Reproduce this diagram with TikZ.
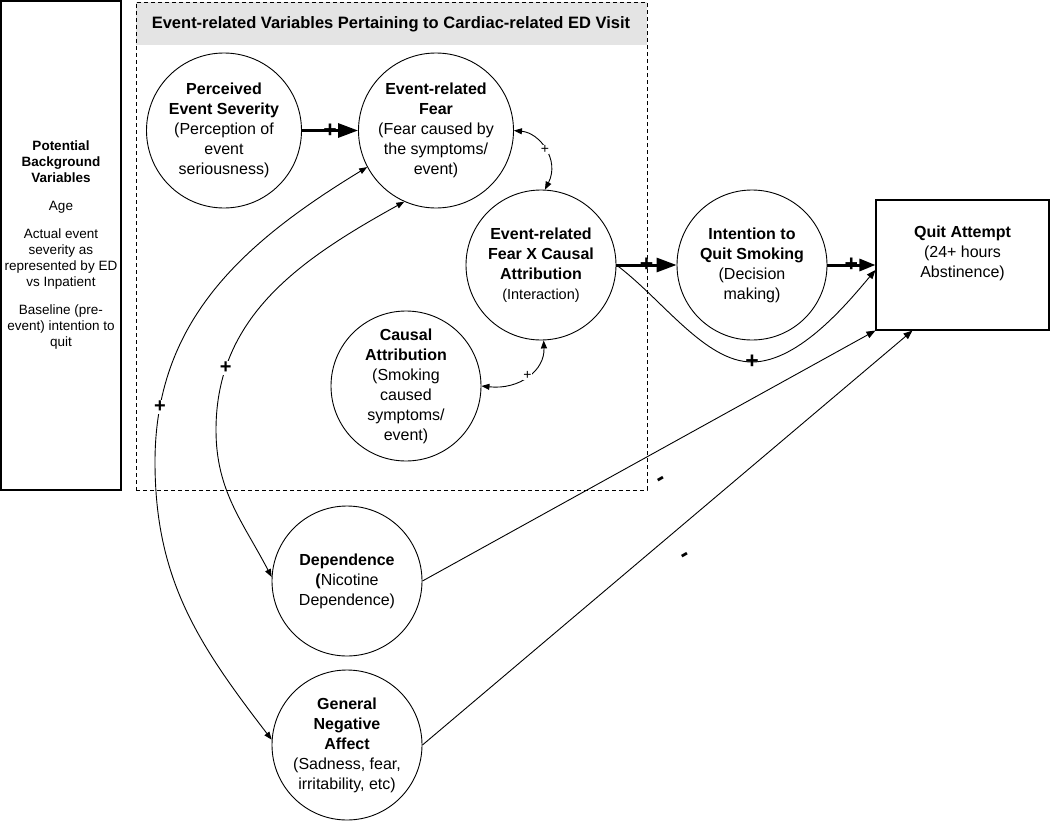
\documentclass[tikz,border=0pt]{standalone}
\usepackage{fontspec}
\setmainfont{Liberation Sans}
\usetikzlibrary{arrows.meta}
\definecolor{headgray}{RGB}{228,228,228}
\begin{document}
\begin{tikzpicture}[x=1pt,y=-1pt,
  circ/.style={draw, circle, minimum size=150pt, inner sep=0pt, align=center, line width=0.9pt, font=\fontsize{16}{20}\selectfont},
  sqbox/.style={draw, rectangle, inner sep=0pt, line width=1.1pt, align=center},
  bigarr/.style={line width=3pt, -{Triangle[length=20pt,width=14pt]}},
  midarr/.style={line width=3pt, -{Triangle[length=16pt,width=12pt]}},
  thinarr/.style={line width=0.9pt, -{Triangle[length=9pt,width=7pt]}},
  dbl/.style={line width=0.9pt, {Triangle[length=8pt,width=6pt]}-{Triangle[length=8pt,width=6pt]}},
  plusB/.style={font=\bfseries\fontsize{23}{23}\selectfont, inner sep=0pt},
  plusW/.style={fill=white, font=\bfseries\fontsize{20}{20}\selectfont, inner sep=1pt},
  pluss/.style={fill=white, font=\fontsize{14}{14}\selectfont, inner sep=0.5pt},
  minus/.style={font=\bfseries\fontsize{24}{24}\selectfont, rotate=30, inner sep=0pt},
]
\useasboundingbox (0,0) rectangle (1050,822);

% left box
\node[sqbox, minimum width=120pt, minimum height=489pt, font=\fontsize{13.5}{16}\selectfont] (bg) at (61,245.5)
 {\textbf{Potential}\\\textbf{Background}\\\textbf{Variables}\\[12pt]Age\\[12pt]Actual event\\severity as\\represented by ED\\vs Inpatient\\[12pt]Baseline (pre-\\event) intention to\\quit};

% event box
\fill[headgray] (136,2) rectangle (647,45);
\node[draw, dash pattern=on 4pt off 3pt, line width=0.9pt, minimum width=511pt, minimum height=488pt, inner sep=0pt] (evbox) at (391.5,246) {};
\node[font=\bfseries\fontsize{16.5}{20}\selectfont] (head) at (391,24) {Event-related Variables Pertaining to Cardiac-related ED Visit};

% circles
\node[circ, minimum size=155pt] (PES) at (224,130.5) {\textbf{Perceived}\\\textbf{Event Severity}\\(Perception of\\event\\seriousness)};
\node[circ, minimum size=155pt] (ERF) at (436,130.5) {\textbf{Event-related}\\\textbf{Fear}\\(Fear caused by\\the symptoms/\\event)};
\node[circ] (FXC) at (541,265) {\textbf{Event-related}\\\textbf{Fear X Causal}\\\textbf{Attribution}\\{\fontsize{14.5}{20}\selectfont(Interaction)}};
\node[circ] (CA) at (406,386) {\textbf{Causal}\\\textbf{Attribution}\\(Smoking\\caused\\symptoms/\\event)};
\node[circ] (INT) at (752,265) {\textbf{Intention to}\\\textbf{Quit Smoking}\\(Decision\\making)};
\node[circ] (DEP) at (347,581) {\textbf{Dependence}\\\textbf{(}Nicotine\\Dependence)};
\node[circ] (GNA) at (347,745) {\textbf{General}\\\textbf{Negative}\\\textbf{Affect}\\(Sadness, fear,\\irritability, etc)};

% quit attempt box
\node[sqbox, minimum width=173pt, minimum height=130pt] (Q) at (962.5,265) {};
\node[font=\fontsize{16}{20}\selectfont, align=center, anchor=north, inner sep=0pt] (qt) at (962.5,226) {\textbf{Quit Attempt}\\(24+ hours\\Abstinence)};

% thick arrows
\draw[bigarr] (PES.east) -- (ERF.west) node[plusB, pos=0.5] {+};
\draw[bigarr] (FXC.east) -- (INT.west) node[plusB, pos=0.5] {+};
\draw[midarr] (INT.east) -- (Q.west) node[plusB, pos=0.5] {+};

% curved FXC -> Quit
\draw[thinarr] (FXC.east) .. controls (662,299) and (705,362) .. (752,362) node[plusB] {+}
  .. controls (800,362) and (850,300) .. ([yshift=-5pt]Q.west);

% straight to quit
\draw[thinarr] (DEP.east) -- (Q.south west);
\draw[thinarr] (GNA.east) -- ([xshift=37pt]Q.south west);
\node[minus] (m1) at (662,481) {-};
\node[minus] (m2) at (686,557) {-};

% small double arcs
\draw[dbl] (ERF.0) .. controls (540,133) and (560,160) .. (FXC.87) node[pluss, pos=0.5] {+};
\draw[dbl] (CA.0) .. controls (520,390) and (545,370) .. (FXC.272) node[pluss, pos=0.5] {+};

% long double arcs
\draw[dbl] (ERF.246) .. controls (301,259) and (216,316) .. (216,430) node[plusW, pos=0.8] {+}
  .. controls (216,491) and (243,522) .. (DEP.177);
\draw[dbl] (ERF.208) .. controls (241,244) and (155,322) .. (155,462) node[plusW, pos=0.86] {+}
  .. controls (155,580) and (199,645) .. (GNA.176);
\end{tikzpicture}
\end{document}
